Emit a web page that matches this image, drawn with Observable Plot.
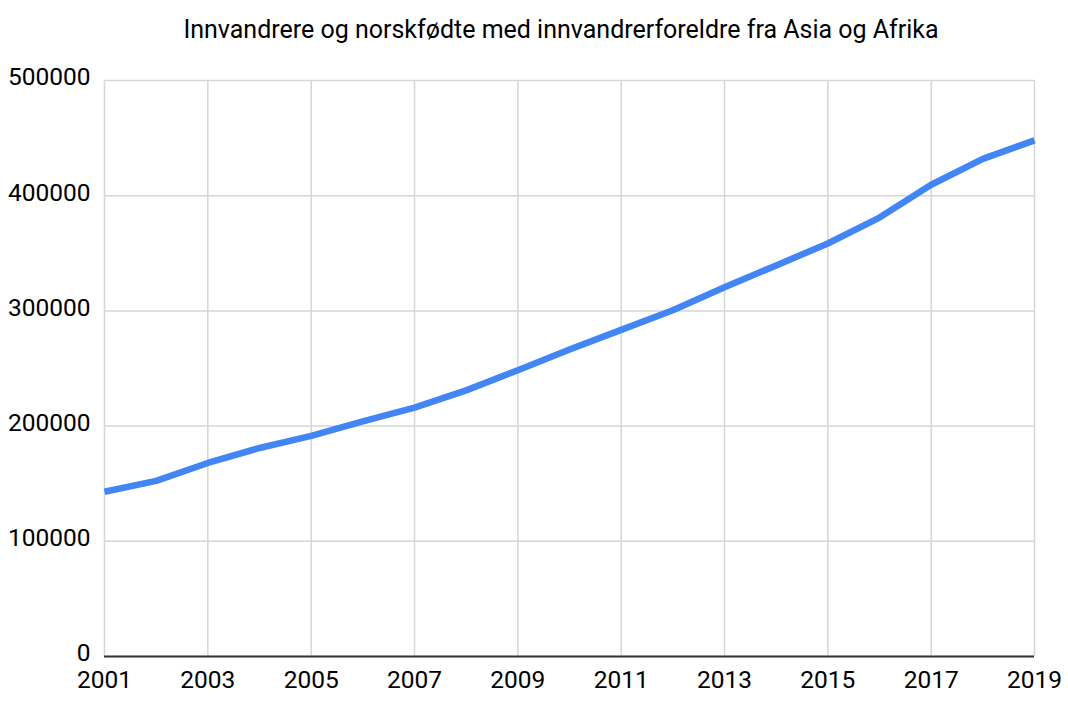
<!DOCTYPE html>
<html>
<head>
<meta charset="utf-8">
<script src="https://cdn.jsdelivr.net/npm/d3@7"></script>
<script src="https://cdn.jsdelivr.net/npm/@observablehq/plot@0.6"></script>
<style>
  html, body { margin: 0; padding: 0; background: #fff; }
  #title { font-family: Roboto, "Noto Sans", sans-serif; font-size: 25px; color: #000; text-align: center; height: 60px; line-height: 60px; width: 1068px; padding-left: 54px; box-sizing: border-box; white-space: nowrap; }
</style>
</head>
<body>
<div id="title">Innvandrere og norskfødte med innvandrerforeldre fra Asia og Afrika</div>
<div id="chart"></div>
<script>
const years = [2001, 2002, 2003, 2004, 2005, 2006, 2007, 2008, 2009, 2010, 2011, 2012, 2013, 2014, 2015, 2016, 2017, 2018, 2019];
const population = [143000, 152500, 168000, 181000, 191500, 204000, 216000, 231000, 248500, 266500, 283500, 300500, 320500, 339500, 358500, 381000, 409500, 432000, 448000];
const yTicks = [0, 100000, 200000, 300000, 400000, 500000];
const xTicks = [2001, 2003, 2005, 2007, 2009, 2011, 2013, 2015, 2017, 2019];

const data = years.map((y, i) => ({year: y, value: population[i]}));

const chart = Plot.plot({
  width: 1068,
  height: 648,
  marginTop: 20,
  marginBottom: 52,
  marginLeft: 104,
  marginRight: 34,
  style: {fontFamily: "Roboto, 'Noto Sans', sans-serif", fontSize: "24.5px", color: "#000", background: "#fff"},
  x: {domain: [2001, 2019]},
  y: {domain: [0, 500000]},
  marks: [
    Plot.gridY(yTicks, {stroke: "#d6d6d6", strokeOpacity: 1, strokeWidth: 1.5}),
    Plot.gridX(xTicks, {stroke: "#d6d6d6", strokeOpacity: 1, strokeWidth: 1.5}),
    Plot.axisY(yTicks, {tickSize: 0, tickPadding: 14, tickFormat: d => String(d), label: null, dy: -3, fill: "#000"}),
    Plot.axisX(xTicks, {tickSize: 0, tickPadding: 14, tickFormat: d => String(d), label: null, fill: "#000"}),
    Plot.ruleY([0], {stroke: "#333", strokeWidth: 2}),
    Plot.line(data, {x: "year", y: "value", stroke: "#4285F4", strokeWidth: 6.5, strokeLinejoin: "round", strokeLinecap: "butt"})
  ]
});
document.getElementById("chart").appendChild(chart);
</script>
</body>
</html>
